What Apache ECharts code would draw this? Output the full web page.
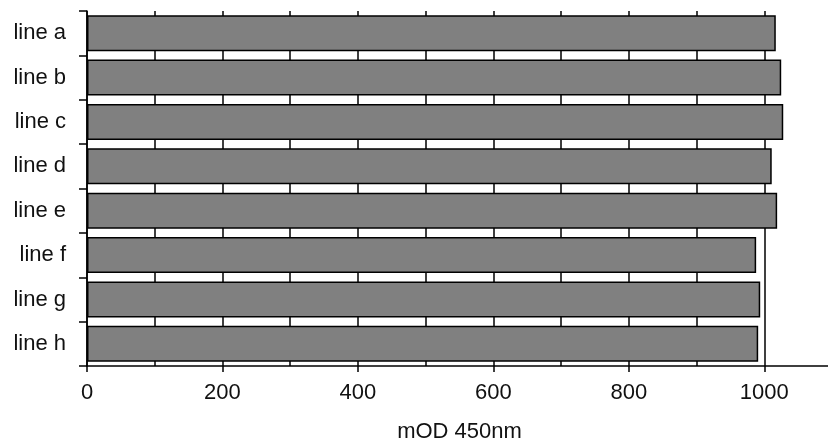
<!DOCTYPE html>
<html>
<head>
<meta charset="utf-8">
<script src="https://cdn.jsdelivr.net/npm/echarts@6/dist/echarts.min.js"></script>
<style>html,body{margin:0;padding:0;background:#fff}#c{width:828px;height:441px}</style>
</head>
<body>
<div id="c"></div>
<script>
const categories = ['line a','line b','line c','line d','line e','line f','line g','line h'];
const values = [1017, 1025, 1028, 1011, 1019, 988, 994, 991];
const axisTitle = 'mOD 450nm';

const chart = echarts.init(document.getElementById('c'), null, {renderer:'canvas'});
const font = 'Liberation Sans, Arial, sans-serif';
chart.setOption({
  animation: false,
  grid: {left: 87, width: 745, top: 11, height: 355, containLabel: false, outerBoundsMode: 'none'},
  xAxis: {
    type: 'value', min: 0, max: 1100, interval: 200, splitNumber: 2,
    axisLine: {show: true, lineStyle: {color: '#000', width: 1.5}},
    axisTick: {show: true, length: 6, lineStyle: {color: '#000', width: 1.5}},
    axisLabel: {margin: 16, color: '#111', fontSize: 22, fontFamily: font,
      formatter: v => (v <= 1000 ? String(v) : '')},
    splitLine: {show: true, lineStyle: {color: '#000', width: 1.5}},
    minorTick: {show: false, splitNumber: 2},
    minorSplitLine: {show: true, lineStyle: {color: '#000', width: 1.5}},
    name: axisTitle, nameLocation: 'middle', nameGap: 55,
    nameTextStyle: {color: '#111', fontSize: 22, fontFamily: font}
  },
  yAxis: {
    type: 'category', data: categories, inverse: true,
    axisLine: {show: true, lineStyle: {color: '#000', width: 1.5}},
    axisTick: {show: true, length: 8, lineStyle: {color: '#000', width: 1.5}},
    axisLabel: {margin: 21, color: '#111', fontSize: 22, fontFamily: font},
    splitLine: {show: false}
  },
  series: [{
    type: 'bar', data: values, barCategoryGap: '19%',
    itemStyle: {color: '#808080', borderColor: '#000', borderWidth: 1.5},
    z: 3
  }]
});
</script>
</body>
</html>
